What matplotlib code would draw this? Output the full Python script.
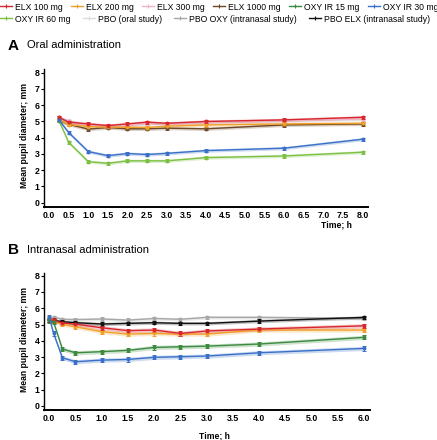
import matplotlib
matplotlib.use("Agg")
import matplotlib.pyplot as plt
from matplotlib.lines import Line2D
import numpy as np

plt.rcParams['font.family'] = ['Liberation Sans', 'DejaVu Sans']

# ---------------- data ----------------
time_oral = [0.25, 0.5, 1.0, 1.5, 2.0, 2.5, 3.0, 4.0, 6.0, 8.0]
oral_elx100 = [5.25, 4.95, 4.84, 4.74, 4.84, 4.95, 4.88, 4.99, 5.09, 5.25]
oral_elx200 = [5.10, 4.80, 4.68, 4.64, 4.64, 4.62, 4.70, 4.78, 4.84, 4.88]
oral_elx300 = [5.25, 5.00, 4.80, 4.75, 4.75, 4.90, 4.85, 4.95, 5.05, 5.15]
oral_elx1000 = [5.05, 4.82, 4.52, 4.62, 4.54, 4.54, 4.58, 4.54, 4.78, 4.84]
oral_oxy30 = [5.09, 4.31, 3.14, 2.89, 3.02, 2.96, 3.03, 3.20, 3.35, 3.90]
oral_oxy60 = [5.05, 3.71, 2.52, 2.42, 2.57, 2.57, 2.57, 2.77, 2.87, 3.10]
oral_pbo = [5.20, 5.05, 4.75, 4.70, 4.70, 4.80, 4.85, 4.90, 5.00, 5.10]

time_nasal = [0.0, 0.083, 0.25, 0.5, 1.0, 1.5, 2.0, 2.5, 3.0, 4.0, 6.0]
nasal_elx100 = [5.30, 5.25, 5.10, 5.02, 4.80, 4.62, 4.66, 4.45, 4.60, 4.72, 4.92]
nasal_elx200 = [5.40, 5.20, 5.01, 4.86, 4.56, 4.41, 4.45, 4.41, 4.41, 4.66, 4.66]
nasal_oxy15 = [5.25, 5.15, 3.49, 3.26, 3.33, 3.41, 3.59, 3.63, 3.67, 3.80, 4.21]
nasal_oxy30 = [5.44, 4.45, 2.95, 2.71, 2.81, 2.85, 2.98, 3.02, 3.06, 3.26, 3.53]
nasal_pbo_oxy = [5.35, 5.45, 5.32, 5.30, 5.34, 5.27, 5.37, 5.32, 5.44, 5.44, 5.37]
nasal_pbo_elx = [5.25, 5.25, 5.17, 5.11, 5.03, 5.07, 5.11, 5.07, 5.07, 5.21, 5.44]

sem_small = 0.10
sem_large = 0.13

x_ticks_oral = [0.0, 0.5, 1.0, 1.5, 2.0, 2.5, 3.0, 3.5, 4.0, 4.5, 5.0, 5.5, 6.0, 6.5, 7.0, 7.5, 8.0]
x_ticks_nasal = [0.0, 0.5, 1.0, 1.5, 2.0, 2.5, 3.0, 3.5, 4.0, 4.5, 5.0, 5.5, 6.0]
y_ticks = [0, 1, 2, 3, 4, 5, 6, 7, 8]

legend_row1 = ["ELX 100 mg", "ELX 200 mg", "ELX 300 mg", "ELX 1000 mg", "OXY IR 15 mg", "OXY IR 30 mg"]
legend_row2 = ["OXY IR 60 mg", "PBO (oral study)", "PBO OXY (intranasal study)", "PBO ELX (intranasal study)"]

colors = {
    "ELX 100 mg": "#d7262e",
    "ELX 200 mg": "#f0a028",
    "ELX 300 mg": "#f3b3c6",
    "ELX 1000 mg": "#6e4a2a",
    "OXY IR 15 mg": "#3b8a3e",
    "OXY IR 30 mg": "#3a70c8",
    "OXY IR 60 mg": "#7cc043",
    "PBO (oral study)": "#dcdcdc",
    "PBO OXY (intranasal study)": "#a8a8a8",
    "PBO ELX (intranasal study)": "#111111",
}

# ---------------- figure ----------------
W, H = 437, 440
fig = plt.figure(figsize=(W / 100, H / 100), dpi=100)


def fbox(l, t, r, b):
    return [l / W, 1 - b / H, (r - l) / W, (b - t) / H]


A_box = (44, 69.3, 368, 206.7)
B_box = (44, 273.3, 370, 410)
axA = fig.add_axes(fbox(*A_box))
axB = fig.add_axes(fbox(*B_box))


def draw(ax, t, y, name, sem, z=2):
    c = colors[name]
    t = np.asarray(t)
    y = np.asarray(y)
    ax.fill_between(t, y - sem, y + sem, color=c, alpha=0.25, lw=0, zorder=z)
    ax.errorbar(t, y, yerr=sem, color=c, lw=1.0, elinewidth=0.7, capsize=1.3,
                capthick=0.7, marker='o', ms=1.8, zorder=z + 0.5)


draw(axA, time_oral, oral_pbo, "PBO (oral study)", sem_small, 1)
draw(axA, time_oral, oral_elx300, "ELX 300 mg", sem_small, 1.5)
draw(axA, time_oral, oral_elx1000, "ELX 1000 mg", sem_small)
draw(axA, time_oral, oral_elx200, "ELX 200 mg", sem_small)
draw(axA, time_oral, oral_elx100, "ELX 100 mg", sem_small)
draw(axA, time_oral, oral_oxy60, "OXY IR 60 mg", sem_small)
draw(axA, time_oral, oral_oxy30, "OXY IR 30 mg", sem_small)

draw(axB, time_nasal, nasal_pbo_oxy, "PBO OXY (intranasal study)", sem_small, 1)
draw(axB, time_nasal, nasal_pbo_elx, "PBO ELX (intranasal study)", sem_small)
draw(axB, time_nasal, nasal_elx200, "ELX 200 mg", sem_large)
draw(axB, time_nasal, nasal_elx100, "ELX 100 mg", sem_large)
draw(axB, time_nasal, nasal_oxy15, "OXY IR 15 mg", sem_large)
draw(axB, time_nasal, nasal_oxy30, "OXY IR 30 mg", sem_large)


def style(ax, box, xticks, xlim, ylim, label_y_center):
    l, t, r, b = box
    ax.set_xlim(*xlim)
    ax.set_ylim(*ylim)
    ax.set_xticks(xticks)
    ax.set_xticklabels([f"{v:.1f}" for v in xticks], fontsize=6.3, fontweight='bold')
    ax.set_yticks(y_ticks)
    ax.set_yticklabels([str(v) for v in y_ticks], fontsize=6.3, fontweight='bold')
    for s in ['top', 'right']:
        ax.spines[s].set_visible(False)
    ax.spines['left'].set_linewidth(1.0)
    ax.spines['bottom'].set_linewidth(1.4)
    ax.tick_params(axis='y', length=2, width=0.8, pad=1)
    ax.tick_params(axis='x', length=0, pad=3)
    ax.set_ylabel("Mean pupil diameter; mm", fontsize=6.2, fontweight='bold')
    ax.yaxis.set_label_coords(-(l - 29) / (r - l), (b - label_y_center) / (b - t))


style(axA, A_box, x_ticks_oral, (-0.13, 8.14), (-0.25, 8.2), 135)
style(axB, B_box, x_ticks_nasal, (-0.10, 6.11), (-0.26, 8.15), 339.5)

axA.set_xlabel("Time; h", fontsize=6.2, fontweight='bold')
axA.xaxis.set_label_coords((336 - 44) / (368 - 44), -(220 - 206.7) / (206.7 - 69.3))
axB.set_xlabel("Time; h", fontsize=6.2, fontweight='bold')
axB.xaxis.set_label_coords((214 - 44) / (370 - 44), -(431 - 410) / (410 - 273.3))

# panel titles
fig.text(8 / W, 1 - 46 / H, "A", fontsize=11, fontweight='bold', va='center', ha='left')
fig.text(27 / W, 1 - 45.5 / H, "Oral administration", fontsize=8, va='center', ha='left')
fig.text(8 / W, 1 - 250 / H, "B", fontsize=11, fontweight='bold', va='center', ha='left')
fig.text(27 / W, 1 - 249.5 / H, "Intranasal administration", fontsize=8, va='center', ha='left')


# legends
def handles(names):
    return [Line2D([0], [0], color=colors[n], lw=1.0, marker='+', ms=3.0, mew=0.8) for n in names]


kw = dict(frameon=False, fontsize=6.2, handlelength=1.4, handletextpad=0.35,
          borderpad=0, borderaxespad=0, loc='center left')
fig.legend(handles(legend_row1), legend_row1, ncol=len(legend_row1), columnspacing=0.95,
           bbox_to_anchor=(0 / W, 1 - 7 / H), **kw)
fig.legend(handles(legend_row2), legend_row2, ncol=len(legend_row2), columnspacing=1.4,
           bbox_to_anchor=(0 / W, 1 - 19 / H), **kw)

fig.savefig("out.png", dpi=100)
